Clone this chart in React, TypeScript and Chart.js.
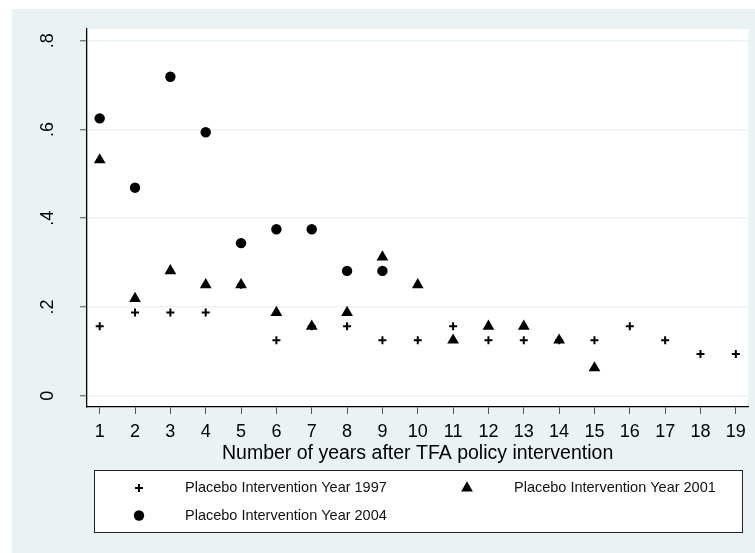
import React, { useEffect, useRef } from 'react';
import { Chart, registerables } from 'chart.js';
import { drawPoint } from 'chart.js/helpers';

Chart.register(...registerables);

const years = [1, 2, 3, 4, 5, 6, 7, 8, 9, 10, 11, 12, 13, 14, 15, 16, 17, 18, 19];
const placebo1997 = [0.15625, 0.1875, 0.1875, 0.1875, 0.25, 0.125, 0.15625, 0.15625, 0.125, 0.125, 0.15625, 0.125, 0.125, 0.125, 0.125, 0.15625, 0.125, 0.09375, 0.09375];
const placebo2001 = [0.53125, 0.21875, 0.28125, 0.25, 0.25, 0.1875, 0.15625, 0.1875, 0.3125, 0.25, 0.125, 0.15625, 0.15625, 0.125, 0.0625, null, null, null, null];
const placebo2004 = [0.625, 0.46875, 0.71875, 0.59375, 0.34375, 0.375, 0.375, 0.28125, 0.28125, null, null, null, null, null, null, null, null, null, null];
const yTicks = [0, 0.2, 0.4, 0.6, 0.8];
const yTickLabels = ['0', '.2', '.4', '.6', '.8'];
const xTitle = 'Number of years after TFA policy intervention';
const seriesLabels = ['Placebo Intervention Year 1997', 'Placebo Intervention Year 2001', 'Placebo Intervention Year 2004'];

const FONT = "'Liberation Sans', Arial, Helvetica, sans-serif";
const BG = '#eaf2f3';

function toPoints(vals: (number | null)[]) {
  return years.map((x, i) => ({ x, y: vals[i] })).filter((p) => p.y !== null);
}

const bgPlugin = {
  id: 'stataBg',
  beforeDraw(chart: any) {
    const { ctx, width, height, chartArea } = chart;
    ctx.save();
    ctx.fillStyle = '#ffffff';
    ctx.fillRect(0, 0, width, height);
    ctx.fillStyle = BG;
    ctx.fillRect(12, 9, width - 12, height - 9);
    ctx.fillStyle = '#ffffff';
    ctx.fillRect(chartArea.left, chartArea.top, chartArea.right - chartArea.left, chartArea.bottom - chartArea.top);
    ctx.restore();
  },
};

const overlayPlugin = {
  id: 'stataOverlay',
  afterDraw(chart: any) {
    const { ctx } = chart;
    const yScale = chart.scales.y;
    ctx.save();
    // rotated y tick labels
    ctx.fillStyle = '#000';
    ctx.font = `18px ${FONT}`;
    ctx.textAlign = 'center';
    ctx.textBaseline = 'middle';
    yTicks.forEach((v, i) => {
      const py = yScale.getPixelForValue(v);
      ctx.save();
      ctx.translate(48.5, py);
      ctx.rotate(-Math.PI / 2);
      ctx.fillText(yTickLabels[i], 0, 0);
      ctx.restore();
    });
    // legend box
    const bx = 94, by = 470, bw = 648, bh = 62;
    ctx.fillStyle = '#ffffff';
    ctx.fillRect(bx, by, bw, bh);
    ctx.strokeStyle = '#222';
    ctx.lineWidth = 1;
    ctx.strokeRect(bx + 0.5, by + 0.5, bw, bh);
    const slots = [
      { mx: 139, tx: 185, y: 488 },
      { mx: 467, tx: 514, y: 488 },
      { mx: 139, tx: 185, y: 515.5 },
    ];
    chart.data.datasets.forEach((ds: any, i: number) => {
      const s = slots[i];
      ctx.fillStyle = '#000';
      ctx.strokeStyle = '#000';
      ctx.lineWidth = ds.pointBorderWidth;
      drawPoint(ctx, { pointStyle: ds.pointStyle, radius: ds.pointRadius, borderWidth: ds.pointBorderWidth, rotation: 0 }, s.mx, s.y);
      ctx.fillStyle = '#111';
      ctx.font = `14.5px ${FONT}`;
      ctx.textAlign = 'left';
      ctx.textBaseline = 'middle';
      ctx.fillText(ds.label, s.tx, s.y);
    });
    ctx.restore();
  },
};

export default function App() {
  const ref = useRef<HTMLCanvasElement | null>(null);
  useEffect(() => {
    if (!ref.current) return;
    const chart = new Chart(ref.current, {
      type: 'scatter',
      data: {
        datasets: [
          {
            label: seriesLabels[0],
            data: toPoints(placebo1997),
            pointStyle: 'cross',
            pointRadius: 4,
            pointBorderWidth: 2,
            borderColor: '#000',
            backgroundColor: '#000',
          },
          {
            label: seriesLabels[1],
            data: toPoints(placebo2001),
            pointStyle: 'triangle',
            pointRadius: 6.8,
            pointBorderWidth: 0,
            borderColor: '#000',
            backgroundColor: '#000',
          },
          {
            label: seriesLabels[2],
            data: toPoints(placebo2004),
            pointStyle: 'circle',
            pointRadius: 5.2,
            pointBorderWidth: 0,
            borderColor: '#000',
            backgroundColor: '#000',
          },
        ],
      },
      options: {
        animation: false,
        responsive: false,
        layout: { padding: { top: 29, right: 6, left: 0, bottom: 84 } },
        plugins: { legend: { display: false }, tooltip: { enabled: false } },
        scales: {
          x: {
            type: 'linear',
            min: 0.641,
            max: 19.35,
            afterBuildTicks: (s: any) => {
              s.ticks = years.map((v) => ({ value: v }));
            },
            afterFit: (s: any) => {
              s.height = 62;
            },
            grid: { drawOnChartArea: false, drawTicks: true, tickLength: 7, tickColor: '#555', tickWidth: 1 },
            border: { color: '#000', width: 1.3 },
            ticks: {
              color: '#000',
              font: { family: FONT, size: 18 },
              padding: 7,
              maxRotation: 0,
              autoSkip: false,
            },
            title: {
              display: true,
              text: xTitle,
              color: '#000',
              font: { family: FONT, size: 19.5 },
              padding: { top: 0, bottom: 4 },
            },
          },
          y: {
            type: 'linear',
            min: -0.0255,
            max: 0.8264,
            afterBuildTicks: (s: any) => {
              s.ticks = yTicks.map((v) => ({ value: v }));
            },
            afterFit: (s: any) => {
              s.width = 87;
            },
            grid: { color: BG, lineWidth: 1.5, drawTicks: true, tickLength: 7, tickColor: '#555', tickWidth: 1 },
            border: { color: '#000', width: 1.3 },
            ticks: { display: false },
          },
        },
      },
      plugins: [bgPlugin, overlayPlugin],
    });
    return () => chart.destroy();
  }, []);
  return (
    <div style={{ position: 'fixed', left: 0, top: 0, width: 755, height: 553 }}>
      <canvas ref={ref} width={755} height={553} style={{ display: 'block', width: 755, height: 553 }} />
    </div>
  );
}
